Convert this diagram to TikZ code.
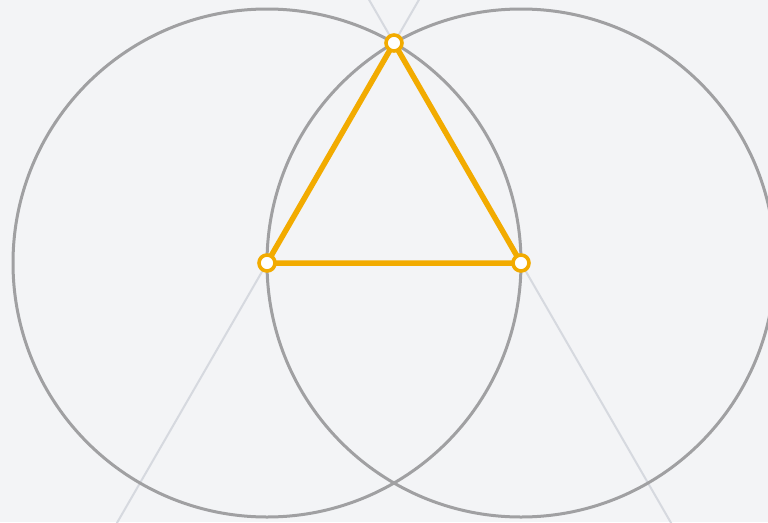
\documentclass[tikz,border=0pt]{standalone}
\usetikzlibrary{calc}
\definecolor{bg}{HTML}{F3F4F6}
\definecolor{circ}{HTML}{A0A0A2}
\definecolor{guide}{HTML}{D6D9DF}
\definecolor{tri}{HTML}{F2AB00}
\tikzset{
  guideline/.style={draw=guide,line width=2pt},
  circline/.style={draw=circ,line width=3pt},
  triline/.style={draw=tri,line width=5.5pt,line join=round},
  vertex/.style={circle,draw=tri,fill=white,line width=3.6pt,minimum size=16pt,inner sep=0pt}
}
\begin{document}
\begin{tikzpicture}[x=1pt,y=-1pt]
\useasboundingbox (0,0) rectangle (768,522);
\fill[bg] (0,0) rectangle (768,522);
\clip (0,0) rectangle (768,522);
\coordinate (A) at (267,263);
\coordinate (B) at (521,263);
\coordinate (C) at (394,43);
\draw[guideline] ($(C)!-0.5!(A)$) -- ($(C)!2.5!(A)$);
\draw[guideline] ($(C)!-0.5!(B)$) -- ($(C)!2.5!(B)$);
\draw[circline] (A) circle[radius=254];
\draw[circline] (B) circle[radius=254];
\draw[triline] (A) -- (B) -- (C) -- cycle;
\node[vertex] (vA) at (A) {};
\node[vertex] (vB) at (B) {};
\node[vertex] (vC) at (C) {};
\end{tikzpicture}
\end{document}
